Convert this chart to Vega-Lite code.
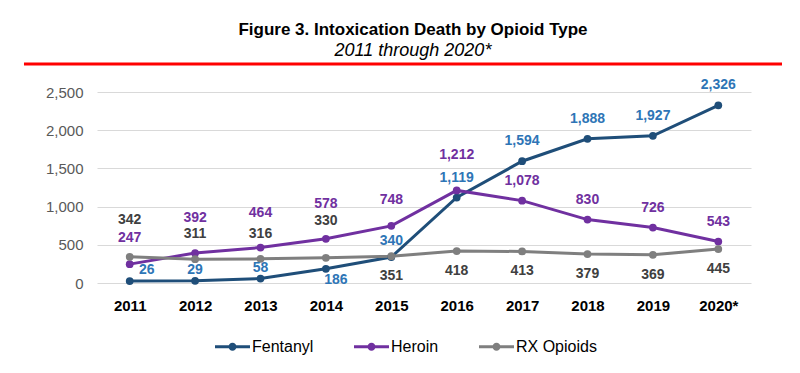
{
  "$schema": "https://vega.github.io/schema/vega-lite/v6.json",
  "padding": {"left": 22, "top": 20, "right": 10, "bottom": 5},
  "title": {
    "text": "Figure 3. Intoxication Death by Opioid Type",
    "subtitle": "2011 through 2020*",
    "anchor": "middle",
    "dx": 10,
    "font": "Liberation Sans",
    "fontSize": 17,
    "fontWeight": "bold",
    "color": "#000000",
    "subtitleFont": "Liberation Sans",
    "subtitleFontSize": 18,
    "subtitleFontStyle": "italic",
    "subtitleColor": "#000000",
    "subtitlePadding": 3,
    "offset": 2
  },
  "config": {"view": {"stroke": null}},
  "spacing": 12,
  "vconcat": [
    {
      "width": 685,
      "height": 1,
      "data": {"values": [{}]},
      "mark": {"type": "rule", "color": "#ff0000", "strokeWidth": 3},
      "encoding": {
        "x": {"datum": -0.1066, "type": "quantitative", "scale": {"domain": [0, 1]}, "axis": null},
        "x2": {"datum": 1},
        "y": {"datum": 0, "type": "quantitative", "scale": {"domain": [0, 1]}, "axis": null}
      }
    },
    {
      "width": 654,
      "height": 191,
      "data": {
        "values": [
          {"year": "2011", "type": "Fentanyl", "deaths": 26},
          {"year": "2012", "type": "Fentanyl", "deaths": 29},
          {"year": "2013", "type": "Fentanyl", "deaths": 58},
          {"year": "2014", "type": "Fentanyl", "deaths": 186},
          {"year": "2015", "type": "Fentanyl", "deaths": 340},
          {"year": "2016", "type": "Fentanyl", "deaths": 1119},
          {"year": "2017", "type": "Fentanyl", "deaths": 1594},
          {"year": "2018", "type": "Fentanyl", "deaths": 1888},
          {"year": "2019", "type": "Fentanyl", "deaths": 1927},
          {"year": "2020*", "type": "Fentanyl", "deaths": 2326},
          {"year": "2011", "type": "Heroin", "deaths": 247},
          {"year": "2012", "type": "Heroin", "deaths": 392},
          {"year": "2013", "type": "Heroin", "deaths": 464},
          {"year": "2014", "type": "Heroin", "deaths": 578},
          {"year": "2015", "type": "Heroin", "deaths": 748},
          {"year": "2016", "type": "Heroin", "deaths": 1212},
          {"year": "2017", "type": "Heroin", "deaths": 1078},
          {"year": "2018", "type": "Heroin", "deaths": 830},
          {"year": "2019", "type": "Heroin", "deaths": 726},
          {"year": "2020*", "type": "Heroin", "deaths": 543},
          {"year": "2011", "type": "RX Opioids", "deaths": 342},
          {"year": "2012", "type": "RX Opioids", "deaths": 311},
          {"year": "2013", "type": "RX Opioids", "deaths": 316},
          {"year": "2014", "type": "RX Opioids", "deaths": 330},
          {"year": "2015", "type": "RX Opioids", "deaths": 351},
          {"year": "2016", "type": "RX Opioids", "deaths": 418},
          {"year": "2017", "type": "RX Opioids", "deaths": 413},
          {"year": "2018", "type": "RX Opioids", "deaths": 379},
          {"year": "2019", "type": "RX Opioids", "deaths": 369},
          {"year": "2020*", "type": "RX Opioids", "deaths": 445}
        ]
      },
      "encoding": {
        "x": {
          "field": "year", "type": "ordinal", "sort": null,
          "scale": {"type": "point", "padding": 0.5},
          "axis": {
            "title": null, "labelAngle": 0, "domain": false, "ticks": false, "grid": false,
            "labelFont": "Liberation Sans", "labelFontSize": 15, "labelFontWeight": "bold",
            "labelColor": "#000000", "labelPadding": 15
          }
        },
        "y": {
          "field": "deaths", "type": "quantitative",
          "scale": {"domain": [0, 2500]},
          "axis": {
            "title": null, "values": [0, 500, 1000, 1500, 2000, 2500], "format": ",d",
            "domain": false, "ticks": false, "grid": true, "gridColor": "#d9d9d9", "gridWidth": 1,
            "labelFont": "Liberation Sans", "labelFontSize": 15, "labelColor": "#595959",
            "labelPadding": 14
          }
        }
      },
      "layer": [
        {
          "mark": {"type": "line", "strokeWidth": 3, "point": {"filled": true, "size": 60}},
          "encoding": {
            "color": {
              "field": "type", "type": "nominal",
              "scale": {"domain": ["Fentanyl", "Heroin", "RX Opioids"], "range": ["#1f4e79", "#7030a0", "#7f7f7f"]},
              "legend": {
                "orient": "none", "legendX": 118, "legendY": 266, "title": null, "direction": "horizontal",
                "labelFont": "Liberation Sans", "labelFontSize": 16, "labelColor": "#000000",
                "symbolType": "M-1,-0.086L1,-0.086L1,0.086L-1,0.086Z M-0.23,0A0.23,0.23 0 1,1 0.23,0A0.23,0.23 0 1,1 -0.23,0Z",
                "symbolSize": 1225, "symbolStrokeWidth": 0, "labelOffset": 2, "columnPadding": 40,
                "encode": {"symbols": {"update": {"fill": {"scale": "color", "field": "value"}, "strokeWidth": {"value": 0}}}}
              }
            }
          }
        },
        {
          "transform": [{"filter": {"and": [{"field": "type", "equal": "Fentanyl"}, {"field": "year", "oneOf": ["2011"]}]}}],
          "mark": {"type": "text", "color": "#2e75b6", "font": "Liberation Sans", "fontSize": 14, "fontWeight": "bold", "dx": 17, "dy": -11},
          "encoding": {"text": {"field": "deaths", "type": "quantitative", "format": ","}}
        },
        {
          "transform": [{"filter": {"and": [{"field": "type", "equal": "Fentanyl"}, {"field": "year", "oneOf": ["2012", "2013"]}]}}],
          "mark": {"type": "text", "color": "#2e75b6", "font": "Liberation Sans", "fontSize": 14, "fontWeight": "bold", "dy": -11},
          "encoding": {"text": {"field": "deaths", "type": "quantitative", "format": ","}}
        },
        {
          "transform": [{"filter": {"and": [{"field": "type", "equal": "Fentanyl"}, {"field": "year", "oneOf": ["2014"]}]}}],
          "mark": {"type": "text", "color": "#2e75b6", "font": "Liberation Sans", "fontSize": 14, "fontWeight": "bold", "dx": 10, "dy": 11},
          "encoding": {"text": {"field": "deaths", "type": "quantitative", "format": ","}}
        },
        {
          "transform": [{"filter": {"and": [{"field": "type", "equal": "Fentanyl"}, {"field": "year", "oneOf": ["2015"]}]}}],
          "mark": {"type": "text", "color": "#2e75b6", "font": "Liberation Sans", "fontSize": 14, "fontWeight": "bold", "dy": -16},
          "encoding": {"text": {"field": "deaths", "type": "quantitative", "format": ","}}
        },
        {
          "transform": [{"filter": {"and": [{"field": "type", "equal": "Fentanyl"}, {"field": "year", "oneOf": ["2016", "2017", "2018", "2019", "2020*"]}]}}],
          "mark": {"type": "text", "color": "#2e75b6", "font": "Liberation Sans", "fontSize": 14, "fontWeight": "bold", "dy": -20},
          "encoding": {"text": {"field": "deaths", "type": "quantitative", "format": ","}}
        },
        {
          "transform": [{"filter": {"and": [{"field": "type", "equal": "Heroin"}, {"field": "year", "oneOf": ["2011", "2015"]}]}}],
          "mark": {"type": "text", "color": "#7030a0", "font": "Liberation Sans", "fontSize": 14, "fontWeight": "bold", "dy": -26},
          "encoding": {"text": {"field": "deaths", "type": "quantitative", "format": ","}}
        },
        {
          "transform": [{"filter": {"and": [{"field": "type", "equal": "Heroin"}, {"field": "year", "oneOf": ["2012", "2013", "2014", "2016"]}]}}],
          "mark": {"type": "text", "color": "#7030a0", "font": "Liberation Sans", "fontSize": 14, "fontWeight": "bold", "dy": -35},
          "encoding": {"text": {"field": "deaths", "type": "quantitative", "format": ","}}
        },
        {
          "transform": [{"filter": {"and": [{"field": "type", "equal": "Heroin"}, {"field": "year", "oneOf": ["2017", "2018", "2019", "2020*"]}]}}],
          "mark": {"type": "text", "color": "#7030a0", "font": "Liberation Sans", "fontSize": 14, "fontWeight": "bold", "dy": -20},
          "encoding": {"text": {"field": "deaths", "type": "quantitative", "format": ","}}
        },
        {
          "transform": [{"filter": {"and": [{"field": "type", "equal": "RX Opioids"}, {"field": "year", "oneOf": ["2011", "2014"]}]}}],
          "mark": {"type": "text", "color": "#404040", "font": "Liberation Sans", "fontSize": 14, "fontWeight": "bold", "dy": -37},
          "encoding": {"text": {"field": "deaths", "type": "quantitative", "format": ","}}
        },
        {
          "transform": [{"filter": {"and": [{"field": "type", "equal": "RX Opioids"}, {"field": "year", "oneOf": ["2012", "2013"]}]}}],
          "mark": {"type": "text", "color": "#404040", "font": "Liberation Sans", "fontSize": 14, "fontWeight": "bold", "dy": -25},
          "encoding": {"text": {"field": "deaths", "type": "quantitative", "format": ","}}
        },
        {
          "transform": [{"filter": {"and": [{"field": "type", "equal": "RX Opioids"}, {"field": "year", "oneOf": ["2015", "2016", "2017", "2018", "2019", "2020*"]}]}}],
          "mark": {"type": "text", "color": "#404040", "font": "Liberation Sans", "fontSize": 14, "fontWeight": "bold", "dy": 20},
          "encoding": {"text": {"field": "deaths", "type": "quantitative", "format": ","}}
        }
      ]
    }
  ]
}
